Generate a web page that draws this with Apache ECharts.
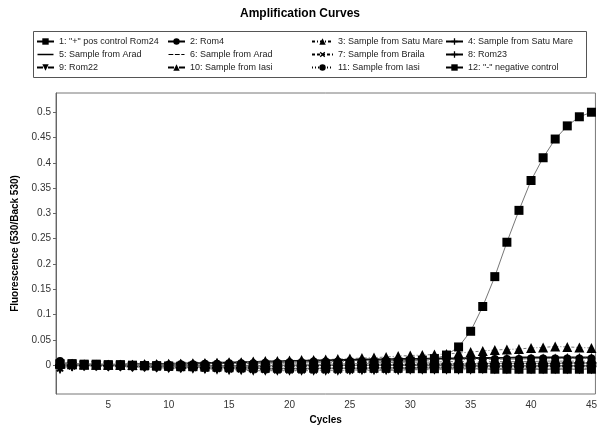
<!DOCTYPE html>
<html>
<head>
<meta charset="utf-8">
<script src="https://cdn.jsdelivr.net/npm/echarts@6/dist/echarts.min.js"></script>
<style>html,body{margin:0;padding:0;background:#fff}#c{width:600px;height:430px}</style>
</head>
<body>
<div id="c"></div>
<script>
// Cycles 1..45
var cycles = [];
for (var i = 1; i <= 45; i++) cycles.push(i);

var xTicks = [5, 10, 15, 20, 25, 30, 35, 40, 45];
var yTicks = [0, 0.05, 0.1, 0.15, 0.2, 0.25, 0.3, 0.35, 0.4, 0.45, 0.5];

var seriesNames = [
  '1: "+" pos control Rom24', '2: Rom4', '3: Sample from Satu Mare', '4: Sample from Satu Mare',
  '5: Sample from Arad', '6: Sample from Arad', '7: Sample from Braila', '8: Rom23',
  '9: Rom22', '10: Sample from Iasi', '11: Sample from Iasi', '12: "-" negative control'
];

var s1 = [0.003,0.003,0.002,0.002,0.001,0.001,0.000,-0.001,-0.001,
          -0.002,-0.002,-0.002,-0.002,-0.002,-0.002,-0.002,-0.001,-0.001,
          0.000,0.000,0.001,0.001,0.002,0.002,0.003,0.003,0.004,
          0.005,0.006,0.008,0.010,0.013,0.020,0.036,0.067,0.116,
          0.175,0.243,0.306,0.365,0.410,0.447,0.473,0.491,0.500];
var s2 = [0.004,0.002,0.001,0.001,0.000,0.000,0.000,0.000,0.001,
          0.001,0.002,0.002,0.003,0.003,0.004,0.004,0.004,0.005,
          0.005,0.006,0.006,0.007,0.007,0.007,0.008,0.008,0.008,
          0.009,0.009,0.010,0.010,0.010,0.011,0.011,0.011,0.012,
          0.012,0.012,0.012,0.013,0.013,0.013,0.013,0.013,0.013];
var s3 = [0.006,0.003,0.002,0.001,0.001,0.001,0.001,0.002,0.002,
          0.003,0.003,0.004,0.004,0.005,0.006,0.006,0.007,0.008,
          0.008,0.009,0.010,0.010,0.011,0.012,0.013,0.014,0.015,
          0.016,0.018,0.019,0.020,0.021,0.022,0.024,0.026,0.028,
          0.030,0.031,0.032,0.034,0.035,0.037,0.036,0.035,0.034];
var s4 = [-0.004,-0.001,0.000,0.000,-0.001,-0.001,-0.002,-0.002,-0.003,
          -0.003,-0.004,-0.004,-0.005,-0.005,-0.006,-0.006,-0.006,-0.007,
          -0.007,-0.007,-0.007,-0.007,-0.006,-0.006,-0.006,-0.006,-0.005,
          -0.005,-0.005,-0.005,-0.004,-0.004,-0.004,-0.004,-0.003,-0.003,
          -0.003,-0.003,-0.003,-0.003,-0.002,-0.002,-0.002,-0.002,-0.002];
var s5 = [0.002,0.001,0.001,0.001,0.001,0.001,0.002,0.002,0.002,
          0.003,0.003,0.004,0.004,0.005,0.005,0.006,0.006,0.007,
          0.007,0.008,0.008,0.009,0.009,0.010,0.010,0.011,0.011,
          0.011,0.012,0.012,0.012,0.013,0.013,0.013,0.014,0.014,
          0.014,0.014,0.015,0.015,0.015,0.015,0.015,0.015,0.015];
var s6 = [0.001,0.001,0.000,0.000,0.000,0.001,0.001,0.001,0.001,
          0.002,0.002,0.002,0.002,0.003,0.003,0.003,0.003,0.004,
          0.004,0.004,0.004,0.005,0.005,0.005,0.005,0.005,0.006,
          0.006,0.006,0.006,0.006,0.006,0.007,0.007,0.007,0.007,
          0.007,0.007,0.007,0.007,0.008,0.008,0.008,0.008,0.008];
var s7 = [-0.006,-0.002,-0.001,-0.001,-0.001,-0.002,-0.002,-0.003,-0.003,
          -0.004,-0.005,-0.005,-0.006,-0.007,-0.008,-0.008,-0.009,-0.009,
          -0.010,-0.010,-0.010,-0.010,-0.010,-0.010,-0.010,-0.009,-0.009,
          -0.009,-0.009,-0.008,-0.008,-0.008,-0.008,-0.007,-0.007,-0.007,
          -0.007,-0.006,-0.006,-0.006,-0.006,-0.006,-0.006,-0.006,-0.006];
var s8 = [0.000,0.000,0.000,0.000,0.000,0.000,-0.001,-0.001,-0.001,
          -0.001,-0.002,-0.002,-0.002,-0.002,-0.002,-0.002,-0.002,-0.002,
          -0.001,-0.001,-0.001,-0.001,0.000,0.000,0.000,0.000,0.001,
          0.001,0.001,0.001,0.002,0.002,0.002,0.002,0.002,0.003,
          0.003,0.003,0.003,0.003,0.003,0.003,0.004,0.004,0.004];
var s9 = [-0.008,-0.003,-0.002,-0.002,-0.003,-0.003,-0.004,-0.004,-0.005,
          -0.006,-0.006,-0.007,-0.008,-0.009,-0.010,-0.010,-0.011,-0.011,
          -0.011,-0.011,-0.011,-0.011,-0.011,-0.011,-0.010,-0.010,-0.010,
          -0.010,-0.010,-0.009,-0.009,-0.009,-0.009,-0.009,-0.009,-0.008,
          -0.008,-0.008,-0.008,-0.008,-0.008,-0.008,-0.008,-0.008,-0.008];
var s10 = [0.003,0.002,0.001,0.001,0.001,0.001,0.001,0.002,0.002,
           0.002,0.003,0.003,0.004,0.004,0.005,0.005,0.006,0.006,
           0.006,0.007,0.007,0.008,0.008,0.008,0.009,0.009,0.009,
           0.010,0.010,0.010,0.011,0.011,0.011,0.012,0.012,0.012,
           0.012,0.013,0.013,0.013,0.013,0.013,0.014,0.014,0.014];
var s11 = [0.008,0.003,0.002,0.001,0.000,0.000,-0.001,-0.001,-0.001,
           -0.001,-0.001,-0.001,-0.001,0.000,0.000,0.000,0.000,0.001,
           0.001,0.001,0.001,0.001,0.002,0.002,0.002,0.002,0.002,
           0.003,0.003,0.003,0.003,0.003,0.003,0.004,0.004,0.004,
           0.004,0.004,0.004,0.004,0.004,0.005,0.005,0.005,0.005];
var s12 = [0.002,0.002,0.001,0.001,0.000,0.000,-0.001,-0.001,-0.002,
           -0.002,-0.003,-0.003,-0.004,-0.004,-0.005,-0.005,-0.005,-0.006,
           -0.006,-0.006,-0.006,-0.006,-0.006,-0.006,-0.006,-0.006,-0.006,
           -0.006,-0.006,-0.007,-0.007,-0.007,-0.007,-0.007,-0.007,-0.007,
           -0.008,-0.008,-0.008,-0.008,-0.008,-0.008,-0.008,-0.008,-0.008];

var values = [s1, s2, s3, s4, s5, s6, s7, s8, s9, s10, s11, s12];

var PLUS = 'path://M4,0h2v4h4v2h-4v4h-2v-4h-4v-2h4z';
var LINE_ICON = 'path://M0,0h0.01v0.01h-0.01z M0,8h40v4h-40z M0,20h0.01v0.01h-0.01z';
var DASH_ICON = 'path://M0,0h0.01v0.01h-0.01z M0,9h12v2h-12z M16,9h12v2h-12z M32,9h8v2h-8z M0,20h0.01v0.01h-0.01z';
var styles = [
  {symbol: 'rect', size: 9, type: 'solid', width: 1, z: 5},
  {symbol: 'circle', size: 8, type: [6, 2, 1, 2], width: 1},
  {symbol: 'triangle', size: 10, type: [3, 2, 1, 2], width: 1},
  {symbol: PLUS, size: 10, type: 'solid', width: 1},
  {symbol: 'none', size: 0, type: 'solid', width: 2, color: '#111', icon: LINE_ICON},
  {symbol: 'none', size: 0, type: [8, 3], width: 1, icon: DASH_ICON},
  {symbol: PLUS, size: 9, rotate: 45, type: [3, 2], width: 1},
  {symbol: PLUS, size: 10, type: 'solid', width: 1},
  {symbol: 'triangle', size: 10, rotate: 180, type: [6, 2, 1, 2], width: 1},
  {symbol: 'triangle', size: 10, type: [6, 2, 1, 2], width: 1},
  {symbol: 'circle', size: 8, type: [1, 2], width: 1},
  {symbol: 'rect', size: 9, type: 'solid', width: 1}
];

var series = seriesNames.map(function (name, k) {
  var st = styles[k];
  return {
    name: name,
    type: 'line',
    data: cycles.map(function (c, j) { return [c, values[k][j]]; }),
    symbol: st.symbol,
    symbolSize: st.size,
    symbolRotate: st.rotate || 0,
    showSymbol: st.symbol !== 'none',
    z: st.z || 2,
    itemStyle: {color: '#000'},
    lineStyle: {color: st.color || '#777', width: st.width, type: st.type},
    emphasis: {disabled: true},
    animation: false
  };
});

function legendItem(k) {
  var item = {name: seriesNames[k]};
  if (styles[k].icon) { item.icon = styles[k].icon; item.itemStyle = {color: '#000'}; }
  return item;
}

function makeLegend(left, idx, w) {
  return {
    orient: 'vertical', left: left, top: 32,
    itemWidth: w, itemHeight: 8, itemGap: 4,
    selectedMode: false,
    data: idx.map(legendItem),
    lineStyle: {color: '#000'},
    textStyle: {fontFamily: 'Liberation Sans', fontSize: 9, color: '#222'}
  };
}

var chart = echarts.init(document.getElementById('c'), null, {renderer: 'canvas'});
chart.setOption({
  animation: false,
  backgroundColor: '#fff',
  title: {
    text: 'Amplification Curves', left: 'center', top: 3,
    textStyle: {fontFamily: 'Liberation Sans', fontSize: 12, fontWeight: 'bold', color: '#000'}
  },
  legend: [
    makeLegend(31, [0, 4, 8], 17),
    makeLegend(162, [1, 5, 9], 17),
    makeLegend(306, [2, 6, 10], 21),
    makeLegend(440, [3, 7, 11], 17)
  ],
  graphic: [{
    type: 'rect', shape: {x: 33.5, y: 31.5, width: 553, height: 46},
    style: {fill: 'none', stroke: '#555', lineWidth: 1}, silent: true
  }],
  grid: {left: 56, top: 93, right: 4, bottom: 36, show: true, borderColor: '#777', borderWidth: 1, containLabel: false},
  xAxis: {
    type: 'value', min: 0.67, max: 45.33,
    name: 'Cycles', nameLocation: 'middle', nameGap: 20,
    nameTextStyle: {fontFamily: 'Liberation Sans', fontSize: 10, fontWeight: 'bold', color: '#000'},
    axisLine: {lineStyle: {color: '#666'}},
    axisTick: {show: true, length: 3, customValues: xTicks, lineStyle: {color: '#666'}},
    axisLabel: {customValues: xTicks, margin: 6, fontFamily: 'Liberation Sans', fontSize: 10, color: '#333'},
    splitLine: {show: false}
  },
  yAxis: {
    type: 'value', min: -0.057, max: 0.538,
    name: 'Fluorescence (530/Back 530)', nameLocation: 'middle', nameGap: 33,
    nameTextStyle: {fontFamily: 'Liberation Sans', fontSize: 10, fontWeight: 'bold', color: '#000'},
    axisLine: {show: true, lineStyle: {color: '#666'}},
    axisTick: {show: true, length: 3, customValues: yTicks, lineStyle: {color: '#666'}},
    axisLabel: {customValues: yTicks, margin: 5, fontFamily: 'Liberation Sans', fontSize: 10, color: '#333'},
    splitLine: {show: false}
  },
  series: series
});
</script>
</body>
</html>
